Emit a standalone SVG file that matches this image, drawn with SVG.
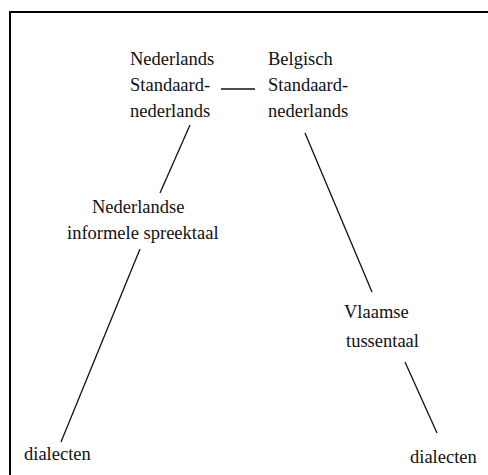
<svg xmlns="http://www.w3.org/2000/svg" width="488" height="475" viewBox="0 0 488 475">
<style>
text{font-family:'Liberation Serif','Times New Roman',Times,serif;font-size:18.5px;fill:#111}
.c line{stroke:#111;stroke-width:1.3}
.frame{stroke:#000;stroke-width:2;fill:none}
</style>
<rect width="488" height="475" fill="#fff"/>
<path class="frame" d="M10,475 V12 H488"/>
<g id="nl-standaard"><text x="130" y="65">Nederlands</text><text x="130" y="91">Standaard-</text><text x="130" y="117">nederlands</text></g>
<g id="be-standaard"><text x="268" y="65">Belgisch</text><text x="268" y="91">Standaard-</text><text x="268" y="117">nederlands</text></g>
<g id="nl-informeel"><text x="92" y="213">Nederlandse</text><text x="67" y="239">informele spreektaal</text></g>
<g id="vlaamse-tussentaal"><text x="344" y="318">Vlaamse</text><text x="346" y="347">tussentaal</text></g>
<g id="dialecten-nl"><text x="24" y="460">dialecten</text></g>
<g id="dialecten-be"><text x="410" y="463">dialecten</text></g>
<g class="c" id="connectors">
<line x1="221" y1="89" x2="255" y2="89"/>
<line x1="190" y1="125" x2="160" y2="193"/>
<line x1="140" y1="249" x2="61" y2="442"/>
<line x1="305" y1="133" x2="372" y2="292"/>
<line x1="405" y1="362" x2="437" y2="433"/>
</g>
</svg>
